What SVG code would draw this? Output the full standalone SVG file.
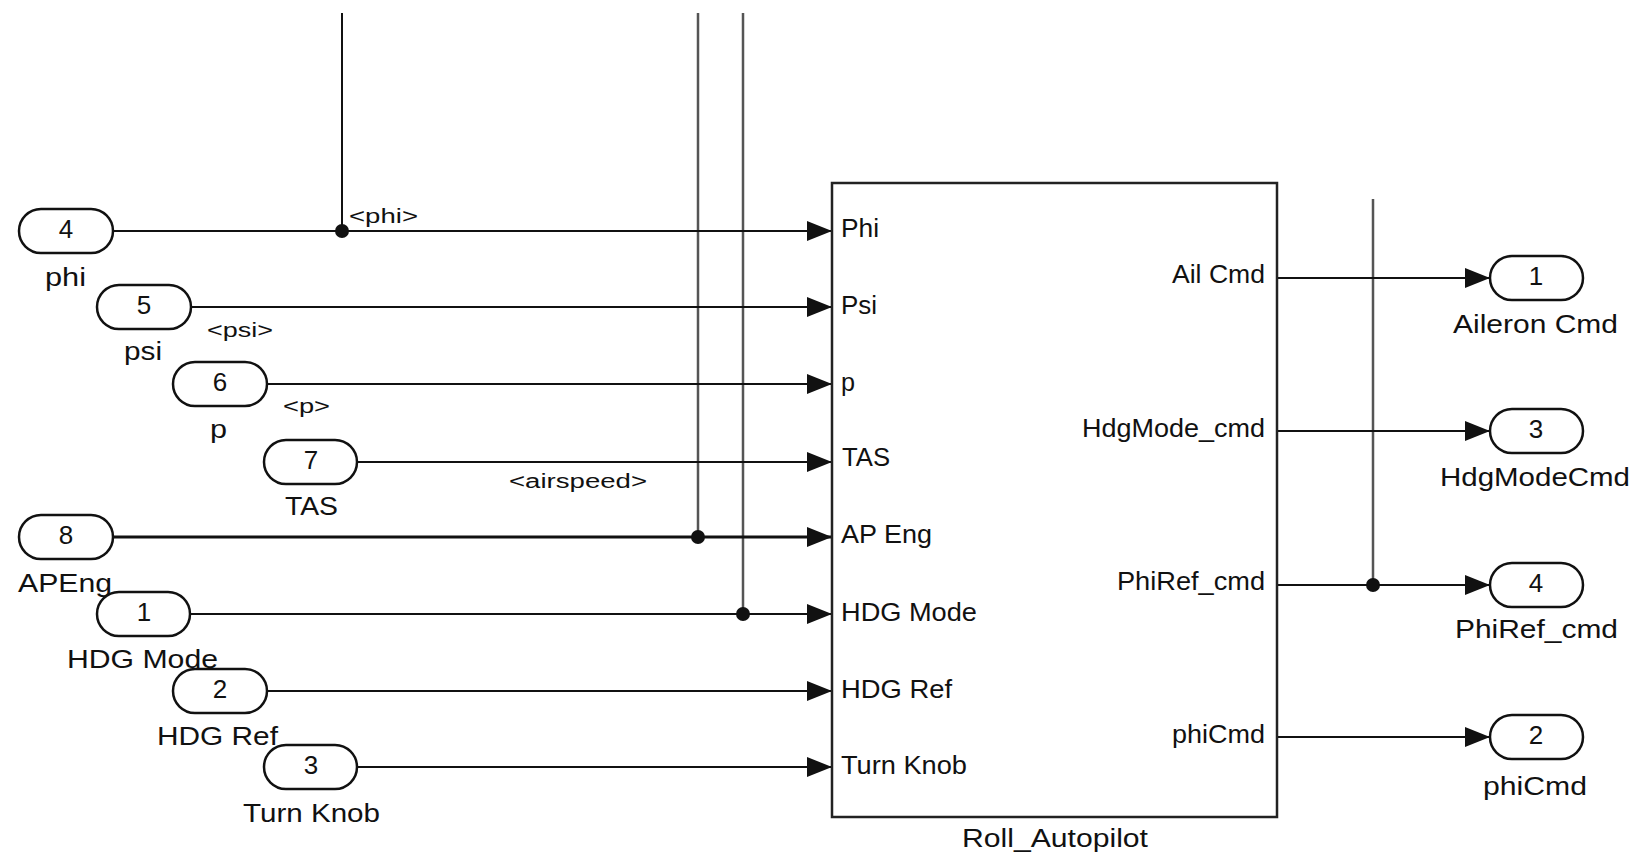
<svg xmlns="http://www.w3.org/2000/svg" width="1641" height="854" viewBox="0 0 1641 854">
<style>
text{font-family:"Liberation Sans",Arial,sans-serif;fill:#111}
.lbl{font-size:25px}
.num{font-size:26px;text-anchor:middle}
.sig{font-size:20px}
.pill{fill:#fff;stroke:#111;stroke-width:2.5}
.ln{stroke:#111;stroke-width:2;fill:none}
.thick{stroke-width:3}
.gv{stroke:#555;stroke-width:2.5;fill:none}
.blk{fill:#fff;stroke:#222;stroke-width:2.5}
.dot{fill:#111}
</style>
<defs>
<marker id="ah" markerUnits="userSpaceOnUse" markerWidth="26" markerHeight="22" refX="25" refY="11" orient="auto">
<path d="M0,1 L25,11 L0,21 z" fill="#111"/>
</marker>
</defs>
<rect width="1641" height="854" fill="#fff"/>
<g id="connectors">
<line class="ln" x1="342" y1="13" x2="342" y2="231"/>
<line class="gv" x1="698" y1="13" x2="698" y2="537"/>
<line class="gv" x1="743" y1="13" x2="743" y2="614"/>
<line class="gv" x1="1373" y1="199" x2="1373" y2="585"/>
<line class="ln" x1="113" y1="231" x2="832" y2="231" marker-end="url(#ah)"/>
<line class="ln" x1="191" y1="307" x2="832" y2="307" marker-end="url(#ah)"/>
<line class="ln" x1="267" y1="384" x2="832" y2="384" marker-end="url(#ah)"/>
<line class="ln" x1="357" y1="462" x2="832" y2="462" marker-end="url(#ah)"/>
<line class="ln thick" x1="113" y1="537" x2="832" y2="537" marker-end="url(#ah)"/>
<line class="ln" x1="190" y1="614" x2="832" y2="614" marker-end="url(#ah)"/>
<line class="ln" x1="267" y1="691" x2="832" y2="691" marker-end="url(#ah)"/>
<line class="ln" x1="357" y1="767" x2="832" y2="767" marker-end="url(#ah)"/>
<line class="ln" x1="1277" y1="278" x2="1490" y2="278" marker-end="url(#ah)"/>
<line class="ln" x1="1277" y1="431" x2="1490" y2="431" marker-end="url(#ah)"/>
<line class="ln" x1="1277" y1="585" x2="1490" y2="585" marker-end="url(#ah)"/>
<line class="ln" x1="1277" y1="737" x2="1490" y2="737" marker-end="url(#ah)"/>
<circle class="dot" cx="342" cy="231" r="7"/>
<circle class="dot" cx="698" cy="537" r="7"/>
<circle class="dot" cx="743" cy="614" r="7"/>
<circle class="dot" cx="1373" cy="585" r="7"/>
<text class="sig" x="349" y="223" textLength="69" lengthAdjust="spacingAndGlyphs">&lt;phi&gt;</text>
<text class="sig" x="207" y="337" textLength="66" lengthAdjust="spacingAndGlyphs">&lt;psi&gt;</text>
<text class="sig" x="283" y="413" textLength="47" lengthAdjust="spacingAndGlyphs">&lt;p&gt;</text>
<text class="sig" x="509" y="488" textLength="138" lengthAdjust="spacingAndGlyphs">&lt;airspeed&gt;</text>
</g>
<g id="in4"><rect class="pill" x="19" y="209" width="94" height="44" rx="22"/><text class="num" x="66" y="238">4</text><text class="lbl" x="45" y="286" textLength="41" lengthAdjust="spacingAndGlyphs">phi</text></g>
<g id="in5"><rect class="pill" x="97" y="285" width="94" height="44" rx="22"/><text class="num" x="144" y="314">5</text><text class="lbl" x="124" y="360" textLength="38" lengthAdjust="spacingAndGlyphs">psi</text></g>
<g id="in6"><rect class="pill" x="173" y="362" width="94" height="44" rx="22"/><text class="num" x="220" y="391">6</text><text class="lbl" x="210" y="438" textLength="17" lengthAdjust="spacingAndGlyphs">p</text></g>
<g id="in7"><rect class="pill" x="264" y="440" width="93" height="44" rx="22"/><text class="num" x="311" y="469">7</text><text class="lbl" x="285" y="515" textLength="53" lengthAdjust="spacingAndGlyphs">TAS</text></g>
<g id="in8"><rect class="pill" x="19" y="515" width="94" height="44" rx="22"/><text class="num" x="66" y="544">8</text><text class="lbl" x="18" y="592" textLength="94" lengthAdjust="spacingAndGlyphs">APEng</text></g>
<g id="in1"><rect class="pill" x="97" y="592" width="93" height="44" rx="22"/><text class="num" x="144" y="621">1</text><text class="lbl" x="67" y="668" textLength="151" lengthAdjust="spacingAndGlyphs">HDG Mode</text></g>
<g id="in2"><rect class="pill" x="173" y="669" width="94" height="44" rx="22"/><text class="num" x="220" y="698">2</text><text class="lbl" x="157" y="745" textLength="121" lengthAdjust="spacingAndGlyphs">HDG Ref</text></g>
<g id="in3"><rect class="pill" x="264" y="745" width="93" height="44" rx="22"/><text class="num" x="311" y="774">3</text><text class="lbl" x="243" y="822" textLength="137" lengthAdjust="spacingAndGlyphs">Turn Knob</text></g>
<g id="roll_autopilot">
<rect class="blk" x="832" y="183" width="445" height="634"/>
<text class="lbl" x="841" y="237" textLength="38" lengthAdjust="spacingAndGlyphs">Phi</text>
<text class="lbl" x="841" y="314" textLength="36" lengthAdjust="spacingAndGlyphs">Psi</text>
<text class="lbl" x="841" y="391" textLength="14" lengthAdjust="spacingAndGlyphs">p</text>
<text class="lbl" x="842" y="466" textLength="48" lengthAdjust="spacingAndGlyphs">TAS</text>
<text class="lbl" x="841" y="543" textLength="91" lengthAdjust="spacingAndGlyphs">AP Eng</text>
<text class="lbl" x="841" y="621" textLength="136" lengthAdjust="spacingAndGlyphs">HDG Mode</text>
<text class="lbl" x="841" y="698" textLength="111" lengthAdjust="spacingAndGlyphs">HDG Ref</text>
<text class="lbl" x="841" y="774" textLength="126" lengthAdjust="spacingAndGlyphs">Turn Knob</text>
<text class="lbl" x="1172" y="283" textLength="93" lengthAdjust="spacingAndGlyphs">Ail Cmd</text>
<text class="lbl" x="1082" y="437" textLength="183" lengthAdjust="spacingAndGlyphs">HdgMode_cmd</text>
<text class="lbl" x="1117" y="590" textLength="148" lengthAdjust="spacingAndGlyphs">PhiRef_cmd</text>
<text class="lbl" x="1172" y="743" textLength="93" lengthAdjust="spacingAndGlyphs">phiCmd</text>
<text class="lbl" x="962" y="847" textLength="186" lengthAdjust="spacingAndGlyphs">Roll_Autopilot</text>
</g>
<g id="out1"><rect class="pill" x="1490" y="256" width="93" height="44" rx="22"/><text class="num" x="1536" y="285">1</text><text class="lbl" x="1453" y="333" textLength="165" lengthAdjust="spacingAndGlyphs">Aileron Cmd</text></g>
<g id="out3"><rect class="pill" x="1490" y="409" width="93" height="44" rx="22"/><text class="num" x="1536" y="438">3</text><text class="lbl" x="1440" y="486" textLength="190" lengthAdjust="spacingAndGlyphs">HdgModeCmd</text></g>
<g id="out4"><rect class="pill" x="1490" y="563" width="93" height="44" rx="22"/><text class="num" x="1536" y="592">4</text><text class="lbl" x="1455" y="638" textLength="163" lengthAdjust="spacingAndGlyphs">PhiRef_cmd</text></g>
<g id="out2"><rect class="pill" x="1490" y="715" width="93" height="44" rx="22"/><text class="num" x="1536" y="744">2</text><text class="lbl" x="1483" y="795" textLength="104" lengthAdjust="spacingAndGlyphs">phiCmd</text></g>
</svg>
